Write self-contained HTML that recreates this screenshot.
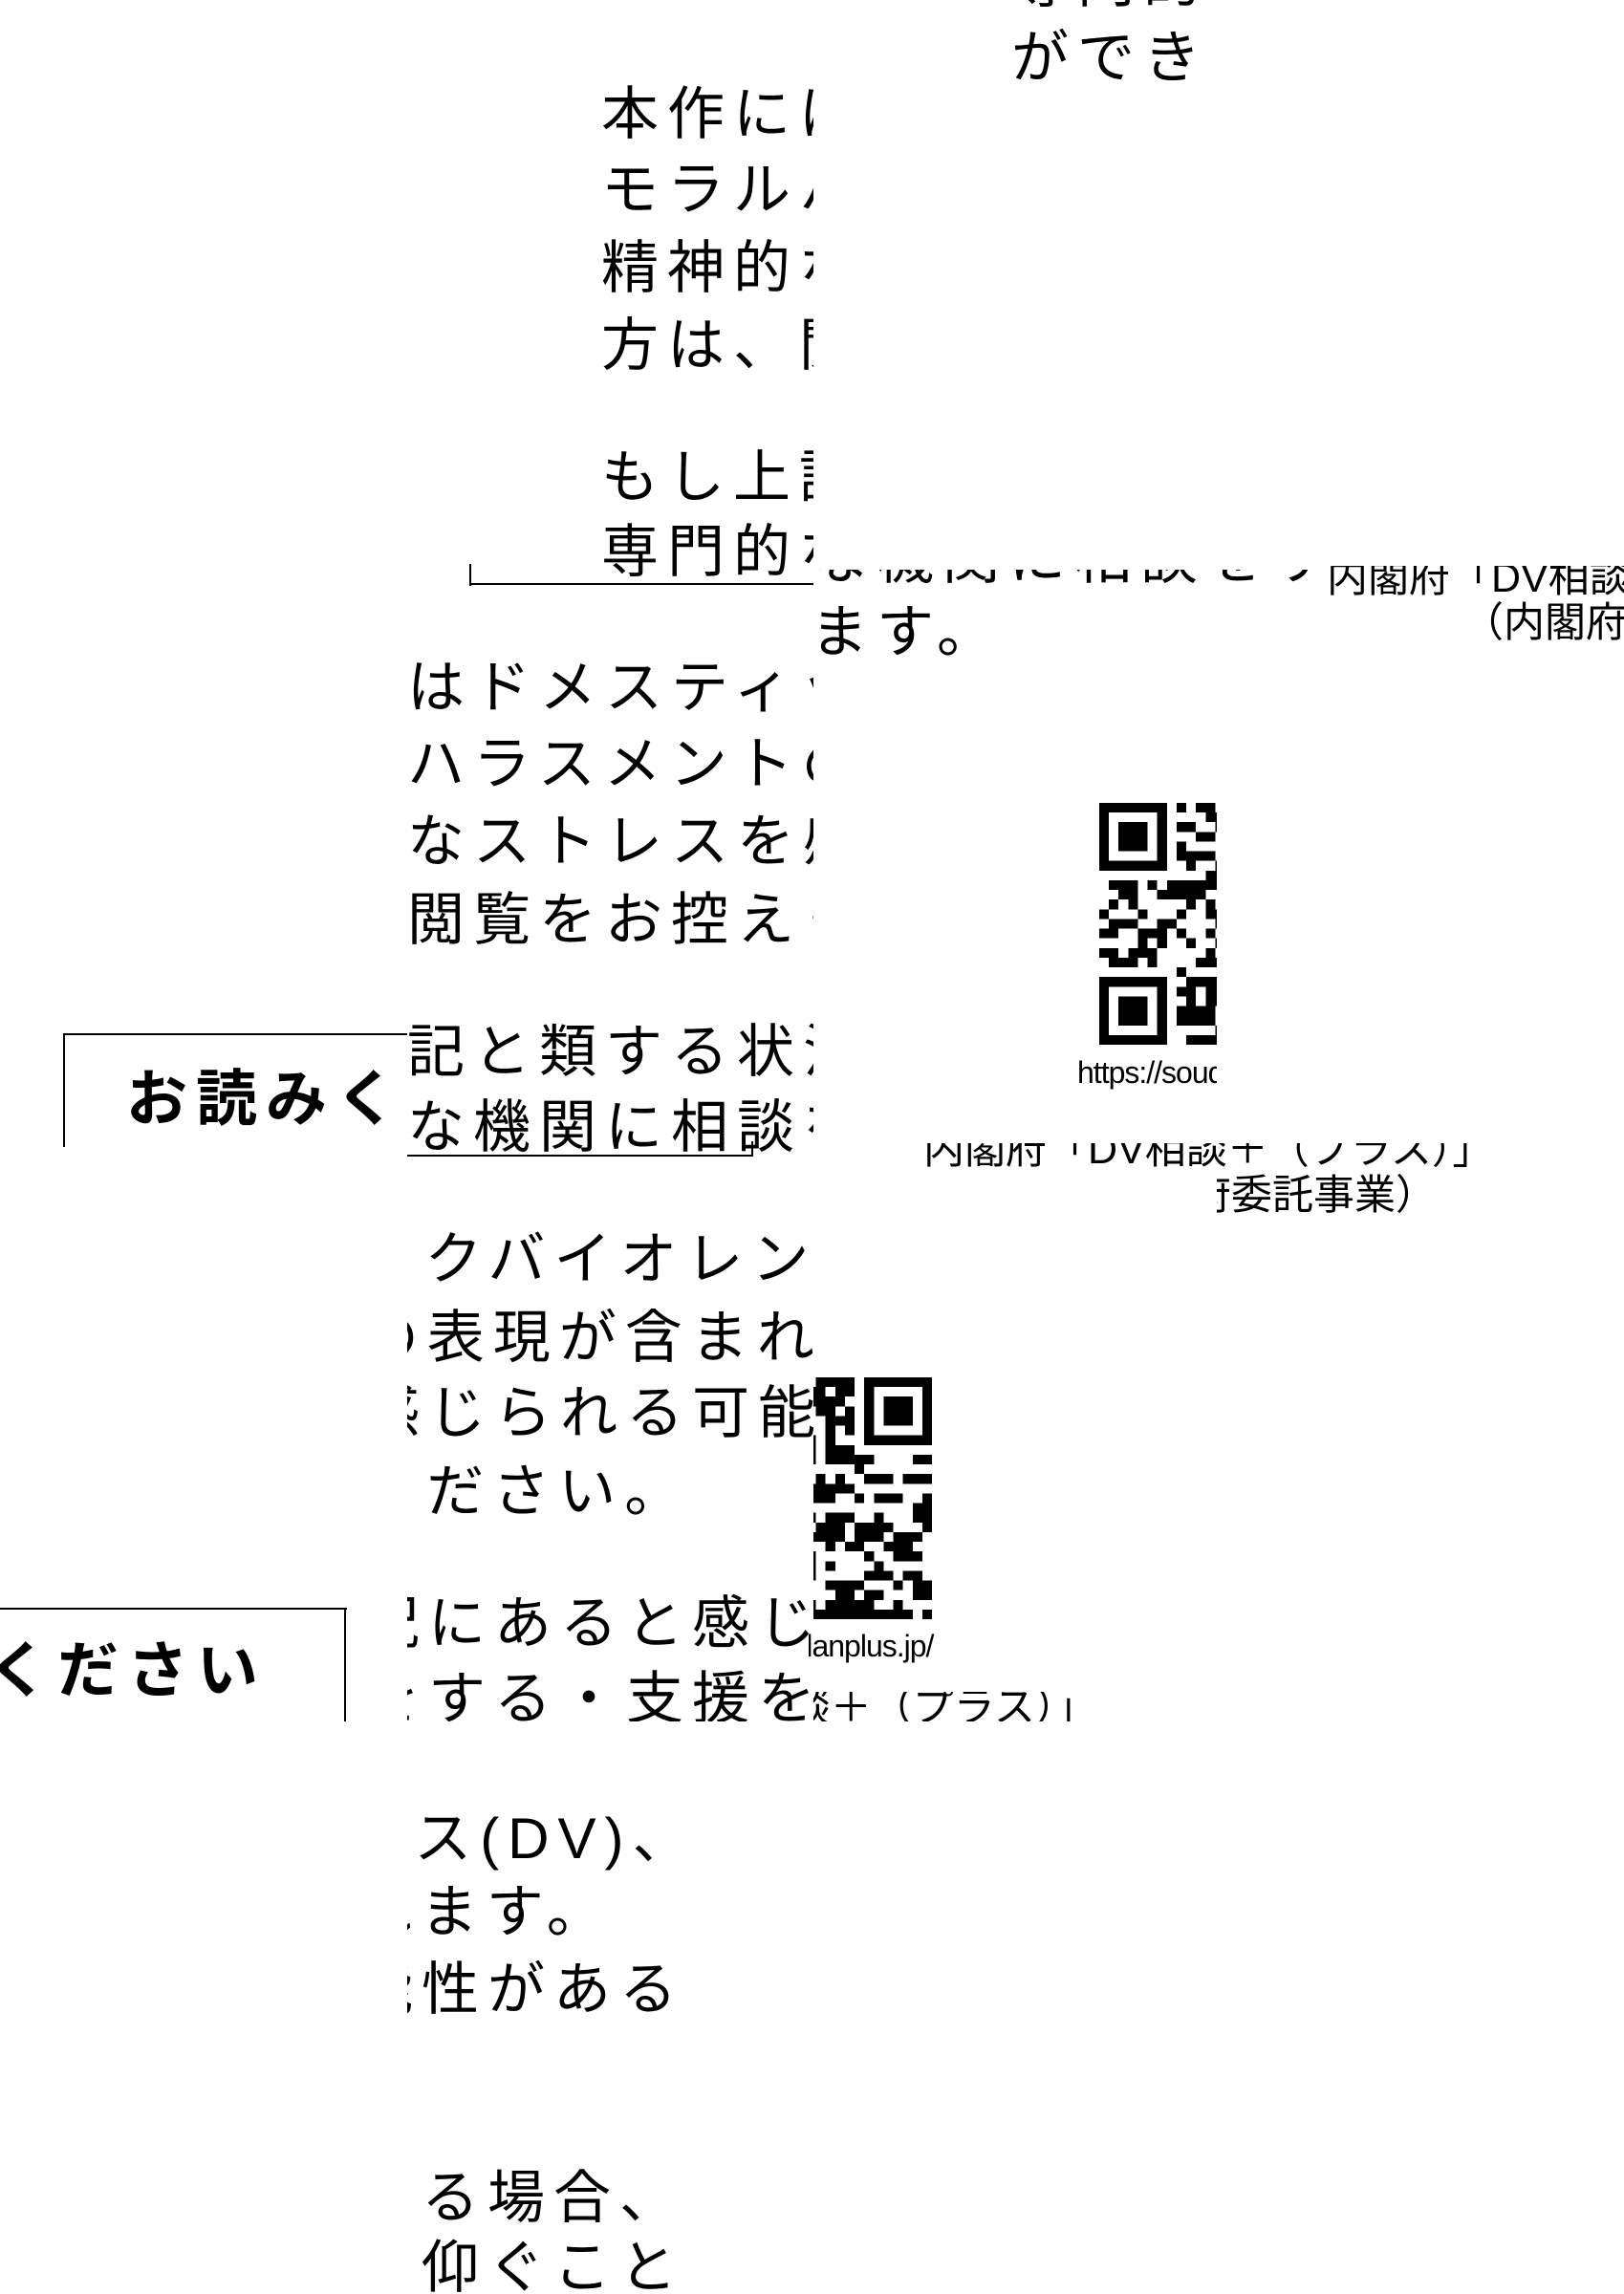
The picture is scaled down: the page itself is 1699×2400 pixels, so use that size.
<!DOCTYPE html>
<html><head><meta charset="utf-8">
<style>
html,body{margin:0;padding:0;background:#fff;}
body{width:1699px;height:2400px;position:relative;overflow:hidden;font-family:"Liberation Sans","Noto Sans CJK JP",sans-serif;color:#000;}
.t{position:absolute;overflow:hidden;}
.l{position:absolute;white-space:pre;font-size:60px;letter-spacing:9px;line-height:80px;}
.s{position:absolute;white-space:pre;font-size:43px;line-height:50px;}
.b{position:absolute;white-space:pre;font-size:64px;letter-spacing:9px;line-height:80px;font-weight:bold;}
.u{position:absolute;white-space:pre;font-size:32px;line-height:40px;letter-spacing:-1px;}
.ln{position:absolute;background:#000;}
</style></head><body>

<div class="t" style="left:1058px;top:0;width:215px;height:95px">
<div class="l" style="left:0;top:-58px">専門的な機関に相談をする・支援を仰ぐこと</div>
<div class="l" style="left:0;top:21px">ができます。</div>
</div>

<div class="t" style="left:629px;top:84px;width:222px;height:526px">
<div class="l" style="left:0;top:-4px">本作にはドメスティックバイオレンス(DV)、</div>
<div class="l" style="left:0;top:75px">モラルハラスメントの表現が含まれます。</div>
<div class="l" style="left:0;top:157px">精神的なストレスを感じられる可能性がある</div>
<div class="l" style="left:0;top:238px">方は、閲覧をお控えください。</div>
<div class="l" style="left:0;top:376px">もし上記と類する状況にあると感じる場合、</div>
<div class="l" style="left:0;top:454px">専門的な機関に相談をする・支援を仰ぐこと</div>
</div>
<div class="ln" style="left:491px;top:590px;width:2px;height:23px"></div>
<div class="ln" style="left:491px;top:610px;width:360px;height:2px"></div>

<div class="t" style="left:851px;top:596px;width:520px;height:106px">
<div class="l" style="left:-210px;top:-51px">専門的な機関に相談をする・支援を仰ぐこと</div>
<div class="l" style="left:-210px;top:26px">ができます。</div>
</div>
<div class="t" style="left:1371px;top:592px;width:328px;height:90px">
<div class="s" style="left:17px;top:-12px">内閣府「DV相談＋（プラス）」</div>
<div class="s" style="left:159px;top:35px">（内閣府委託事業）</div>
</div>

<div class="t" style="left:426px;top:682px;width:425px;height:529px">
<div class="l" style="left:-207px;top:-2px">本作にはドメスティックバイオレンス(DV)、</div>
<div class="l" style="left:-207px;top:78px">モラルハラスメントの表現が含まれます。</div>
<div class="l" style="left:-207px;top:159px">精神的なストレスを感じられる可能性がある</div>
<div class="l" style="left:-207px;top:241px">方は、閲覧をお控えください。</div>
<div class="l" style="left:-207px;top:379px">もし上記と類する状況にあると感じる場合、</div>
<div class="l" style="left:-207px;top:458px">専門的な機関に相談をする・支援を仰ぐこと</div>
</div>
<div class="ln" style="left:426px;top:1208px;width:362px;height:2px"></div>
<div class="ln" style="left:786px;top:1194px;width:2px;height:16px"></div>

<div class="t" style="left:64px;top:1078px;width:362px;height:122px">
<div class="ln" style="left:2px;top:3px;width:400px;height:2px"></div>
<div class="ln" style="left:2px;top:3px;width:2px;height:130px"></div>
<div class="b" style="left:68px;top:32px">お読みください</div>
</div>

<div class="t" style="left:1150px;top:840px;width:123px;height:253px">
<svg id="q1" width="253" height="253" viewBox="0 0 25 25" shape-rendering="crispEdges" style="position:absolute;left:0;top:0"></svg>
</div>
<div class="t" style="left:1127px;top:1100px;width:146px;height:45px">
<div class="u" style="left:0;top:2px">https://soudanplus.jp/</div>
</div>

<div class="t" style="left:851px;top:1196px;width:720px;height:30px">
<div class="s" style="left:115px;top:-18px">内閣府「DV相談＋（プラス）」</div>
</div>
<div class="t" style="left:1273px;top:1226px;width:300px;height:50px">
<div class="s" style="left:-157px;top:0">（内閣府委託事業）</div>
</div>

<div class="t" style="left:426px;top:1272px;width:425px;height:529px">
<div class="l" style="left:-668px;top:6px">本作にはドメスティックバイオレンス(DV)、</div>
<div class="l" style="left:-668px;top:88px">モラルハラスメントの表現が含まれます。</div>
<div class="l" style="left:-668px;top:167px">精神的なストレスを感じられる可能性がある</div>
<div class="l" style="left:-668px;top:249px">方は、閲覧をお控えください。</div>
<div class="l" style="left:-668px;top:387px">もし上記と類する状況にあると感じる場合、</div>
<div class="l" style="left:-668px;top:466px">専門的な機関に相談をする・支援を仰ぐこと</div>
</div>

<div class="t" style="left:851px;top:1441px;width:124px;height:253px">
<svg id="q2" width="253" height="253" viewBox="0 0 25 25" shape-rendering="crispEdges" style="position:absolute;left:-129px;top:0"></svg>
</div>
<div class="t" style="left:846px;top:1700px;width:250px;height:45px">
<div class="u" style="left:-150px;top:2px">https://soudanplus.jp/</div>
</div>
<div class="t" style="left:851px;top:1770px;width:300px;height:31px">
<div class="s" style="left:-300px;top:-8px">内閣府「DV相談＋（プラス）」</div>
</div>

<div class="t" style="left:0;top:1679px;width:363px;height:122px">
<div class="ln" style="left:0;top:3px;width:363px;height:2px"></div>
<div class="ln" style="left:360px;top:3px;width:2px;height:130px"></div>
<div class="b" style="left:-232px;top:29px">お読みください</div>
</div>

<div class="t" style="left:426px;top:1870px;width:425px;height:530px">
<div class="l" style="left:-1089px;top:14px">本作にはドメスティックバイオレンス(DV)、</div>
<div class="l" style="left:-1089px;top:91px">モラルハラスメントの表現が含まれます。</div>
<div class="l" style="left:-1089px;top:172px">精神的なストレスを感じられる可能性がある</div>
<div class="l" style="left:-1089px;top:390px">もし上記と類する状況にあると感じる場合、</div>
<div class="l" style="left:-1089px;top:463px">専門的な機関に相談をする・支援を仰ぐこと</div>
</div>

<script>
(function(){
var N=25,g=[],i,j,seed=7;
function rnd(){seed=(seed*1103515245+12345)&0x7fffffff;return seed/0x7fffffff;}
for(i=0;i<N;i++){g[i]=[];for(j=0;j<N;j++)g[i][j]=rnd()<0.5?1:0;}
function finder(r,c){for(var a=-1;a<8;a++)for(var b=-1;b<8;b++){var y=r+a,x=c+b;if(y<0||x<0||y>=N||x>=N)continue;
var v=0;if(a>=0&&a<7&&b>=0&&b<7){v=(a==0||a==6||b==0||b==6||(a>=2&&a<=4&&b>=2&&b<=4))?1:0;}g[y][x]=v;}}
finder(0,0);finder(0,18);finder(18,0);
var s='';for(i=0;i<N;i++)for(j=0;j<N;j++)if(g[i][j])s+='<rect x="'+j+'" y="'+i+'" width="1" height="1"/>';
document.getElementById('q1').innerHTML=s;document.getElementById('q2').innerHTML=s;
})();
</script>
</body></html>
